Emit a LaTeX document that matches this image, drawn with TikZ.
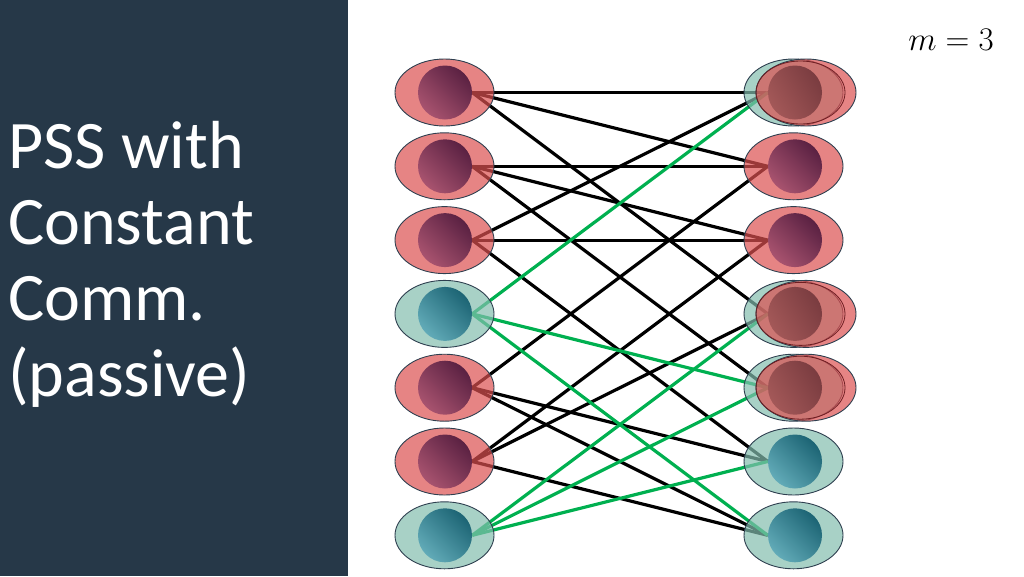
\documentclass[tikz,border=0pt]{standalone}
\usepackage{fix-cm}
\usepackage{fontspec}
\setmainfont{Carlito}
\usepackage{tikz}
\usetikzlibrary{shapes.geometric,backgrounds}

\definecolor{panel}{HTML}{263848}
\definecolor{pinkfill}{HTML}{DC5050}
\definecolor{tealfill}{HTML}{83BDAE}
\definecolor{rimcol}{HTML}{2E3F4F}
\definecolor{rimred}{HTML}{6E1E22}
\definecolor{linkgreen}{HTML}{00B050}
\definecolor{redlight}{HTML}{A8536F}
\definecolor{reddark}{HTML}{5A2142}
\definecolor{teallight}{HTML}{62ABB8}
\definecolor{tealdark}{HTML}{1C6474}
\definecolor{mixlight}{HTML}{A35858}
\definecolor{mixdark}{HTML}{7A3C40}

\tikzset{
  shell/.style={ellipse, draw=rimcol, line width=0.9pt, minimum width=99pt,
    minimum height=67pt, inner sep=0pt, fill opacity=0.7},
  red shell/.style={shell, fill=pinkfill},
  green shell/.style={shell, fill=tealfill},
  core/.style={circle, minimum size=54pt, inner sep=0pt},
  red core/.style={core, top color=reddark, bottom color=redlight, shading angle=-45},
  green core/.style={core, top color=tealdark, bottom color=teallight, shading angle=-45},
  mix core/.style={core, top color=mixdark, bottom color=mixlight, shading angle=-60},
  rim/.style={ellipse, draw=rimred, line width=0.8pt, minimum width=89pt,
    minimum height=63pt, inner sep=0pt},
  link/.style={line width=3.2pt}
}

\begin{document}
\begin{tikzpicture}[x=1pt,y=-1pt]
\useasboundingbox (0,0) rectangle (1024,576);

\node[anchor=north west, inner sep=0pt, align=left, text=white,
  font=\fontsize{68}{76}\selectfont] (title) at (8,121)
  {PSS with\\Constant\\Comm.\\(passive)};
\node[anchor=base, inner sep=0pt, font=\fontsize{33}{40}\selectfont] (mlabel) at (951,50) {$m=3$};

\foreach \i/\kind in {1/red,2/red,3/red,4/green,5/red,6/red,7/green}{
  \node[\kind\space shell] (ls\i) at (444.5,{92.5+73.8*(\i-1)}) {};
  \node[\kind\space core] (l\i) at (445,{92.5+73.8*(\i-1)}) {};
}

\foreach \i/\kind in {2/red,3/red,6/green,7/green}{
  \node[\kind\space shell] (rs\i) at (793.5,{92.5+73.8*(\i-1)}) {};
  \node[\kind\space core] (r\i) at (795,{92.5+73.8*(\i-1)}) {};
}

\foreach \i in {1,4,5}{
  \node[green shell] (rg\i) at (793.5,{92.5+73.8*(\i-1)}) {};
  \node[red shell, minimum width=100pt] (rs\i) at (806,{92.5+73.8*(\i-1)}) {};
  \node[rim] (rr\i) at (800.5,{92.5+73.8*(\i-1)}) {};
  \node[mix core] (r\i) at (795,{92.5+73.8*(\i-1)}) {};
}

\begin{pgfonlayer}{background}
\fill[panel] (0,0) rectangle (348,576);
\foreach \a/\b in {1/1,1/2,1/4,2/2,2/3,2/5,3/1,3/3,3/6,5/2,5/6,5/7,6/3,6/4,6/7}
  \draw[link] (l\a.east) -- (r\b.west);
\foreach \a/\b in {4/1,4/5,4/7,7/4,7/5,7/6}
  \draw[link, linkgreen] (l\a.east) -- (r\b.west);
\end{pgfonlayer}
\end{tikzpicture}
\end{document}
